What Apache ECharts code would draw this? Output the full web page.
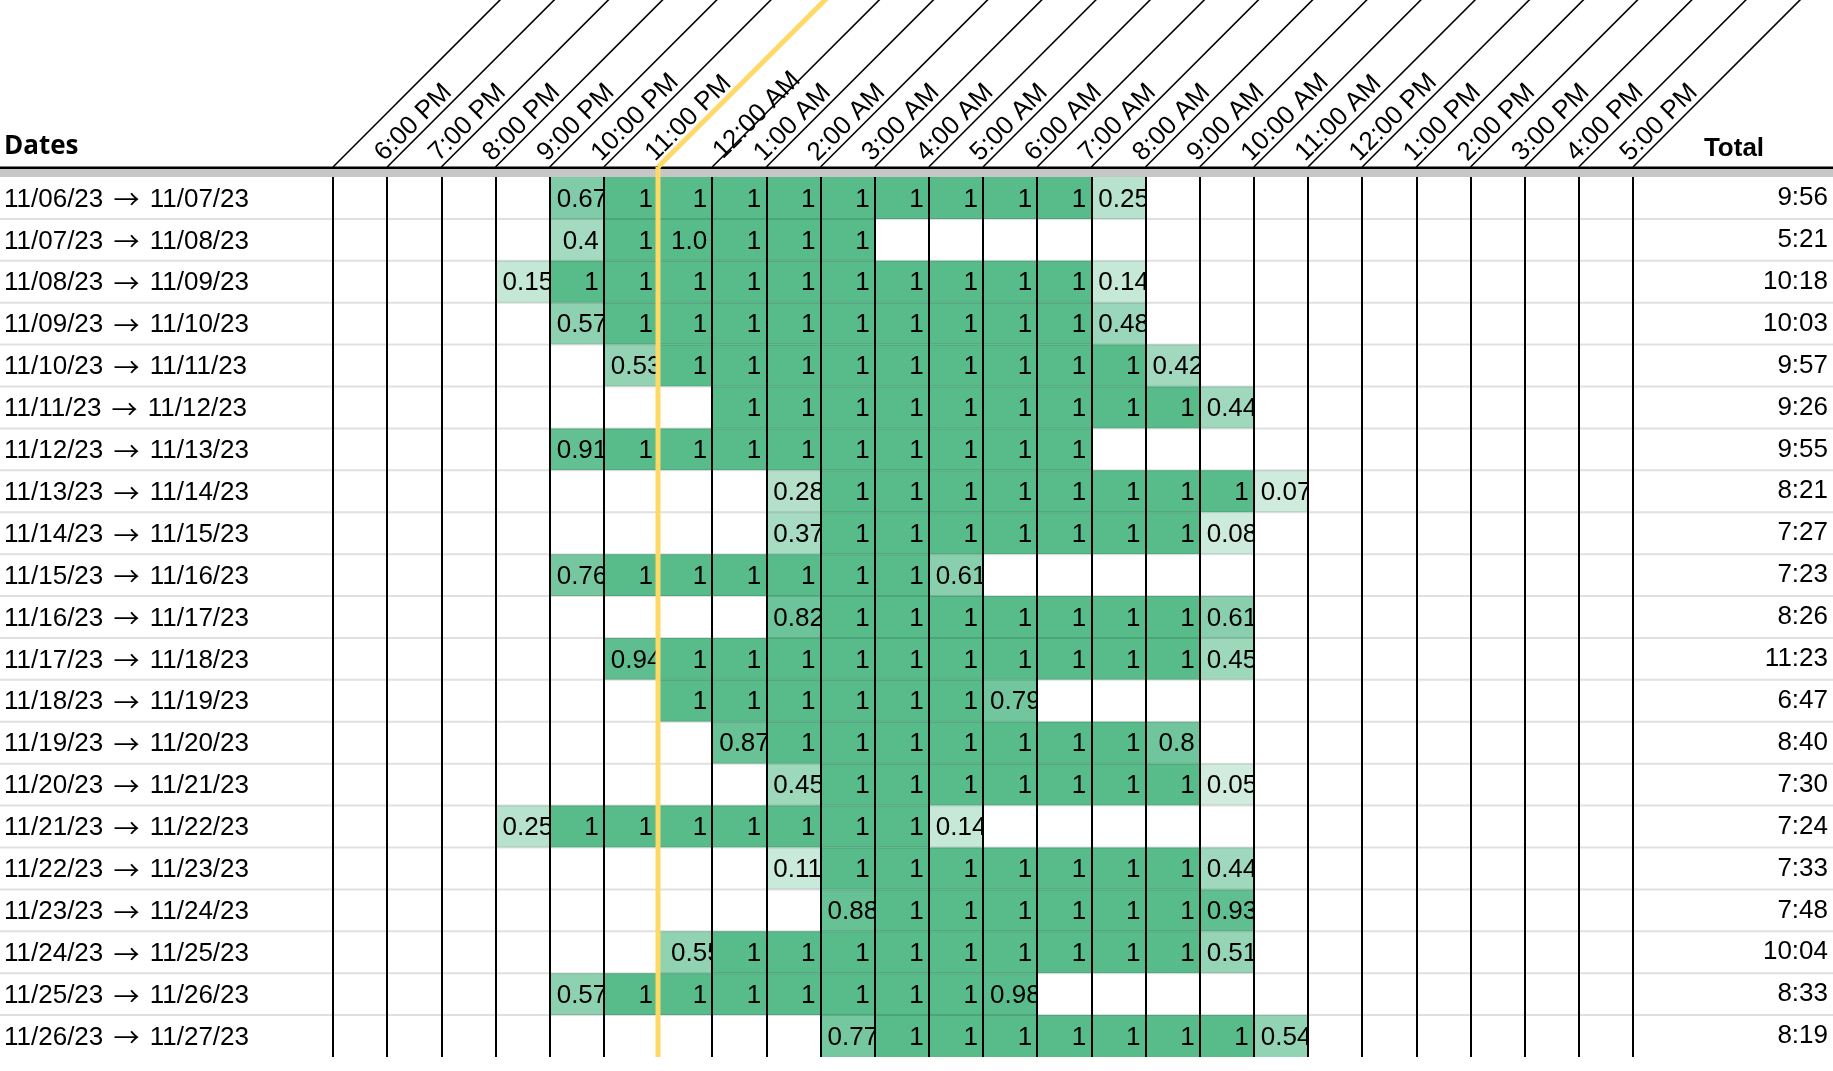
<!DOCTYPE html>
<html>
<head>
<meta charset="utf-8">
<script src="https://cdn.jsdelivr.net/npm/echarts@6/dist/echarts.min.js"></script>
<style>
html, body { margin: 0; padding: 0; background: #ffffff; }
#chart { width: 1833px; height: 1071px; }
</style>
</head>
<body>
<div id="chart"></div>
<script>
// ---------------- data ----------------
const hours = ['6:00 PM','7:00 PM','8:00 PM','9:00 PM','10:00 PM','11:00 PM','12:00 AM','1:00 AM','2:00 AM','3:00 AM','4:00 AM','5:00 AM','6:00 AM','7:00 AM','8:00 AM','9:00 AM','10:00 AM','11:00 AM','12:00 PM','1:00 PM','2:00 PM','3:00 PM','4:00 PM','5:00 PM'];

const dates = [
  '11/06/23 → 11/07/23','11/07/23 → 11/08/23','11/08/23 → 11/09/23','11/09/23 → 11/10/23',
  '11/10/23 → 11/11/23','11/11/23 → 11/12/23','11/12/23 → 11/13/23','11/13/23 → 11/14/23',
  '11/14/23 → 11/15/23','11/15/23 → 11/16/23','11/16/23 → 11/17/23','11/17/23 → 11/18/23',
  '11/18/23 → 11/19/23','11/19/23 → 11/20/23','11/20/23 → 11/21/23','11/21/23 → 11/22/23',
  '11/22/23 → 11/23/23','11/23/23 → 11/24/23','11/24/23 → 11/25/23','11/25/23 → 11/26/23',
  '11/26/23 → 11/27/23'
];

const totals = ['9:56','5:21','10:18','10:03','9:57','9:26','9:55','8:21','7:27','7:23','8:26','11:23','6:47','8:40','7:30','7:24','7:33','7:48','10:04','8:33','8:19'];

// index (into hours) of the first hour slept in each night
const firstHour = [4,4,3,4,5,7,4,8,8,4,8,5,6,7,8,3,8,9,6,4,9];

// fraction of each hour asleep, from firstHour onward, as displayed
const hourFractions = [
  ['0.67','1','1','1','1','1','1','1','1','1','0.25'],
  ['0.4','1','1.0','1','1','1'],
  ['0.15','1','1','1','1','1','1','1','1','1','1','0.14'],
  ['0.57','1','1','1','1','1','1','1','1','1','0.48'],
  ['0.53','1','1','1','1','1','1','1','1','1','0.42'],
  ['1','1','1','1','1','1','1','1','1','0.44'],
  ['0.91','1','1','1','1','1','1','1','1','1'],
  ['0.28','1','1','1','1','1','1','1','1','0.07'],
  ['0.37','1','1','1','1','1','1','1','0.08'],
  ['0.76','1','1','1','1','1','1','0.61'],
  ['0.82','1','1','1','1','1','1','1','0.61'],
  ['0.94','1','1','1','1','1','1','1','1','1','1','0.45'],
  ['1','1','1','1','1','1','0.79'],
  ['0.87','1','1','1','1','1','1','1','0.8'],
  ['0.45','1','1','1','1','1','1','1','0.05'],
  ['0.25','1','1','1','1','1','1','1','0.14'],
  ['0.11','1','1','1','1','1','1','1','0.44'],
  ['0.88','1','1','1','1','1','1','0.93'],
  ['0.55','1','1','1','1','1','1','1','1','1','0.51'],
  ['0.57','1','1','1','1','1','1','1','0.98'],
  ['0.77','1','1','1','1','1','1','1','0.54']
];

// ---------------- build ----------------
const FONT_FAMILY = '"Liberation Sans", Arial, Helvetica, sans-serif';
const ARROW_FAMILY = '"Noto Sans CJK JP", "DejaVu Sans", sans-serif';
const FONT_SIZE = 26;
const CELL_FONT = FONT_SIZE + 'px ' + FONT_FAMILY;
const GREEN = [87, 187, 138];
const MIDNIGHT = '12:00 AM';

const measureCtx = document.createElement('canvas').getContext('2d');
measureCtx.font = CELL_FONT;

const cells = [];
const cellLabels = [];
hourFractions.forEach(function (vals, r) {
  for (let c = 0; c < hours.length; c++) {
    const k = c - firstHour[r];
    const label = (k >= 0 && k < vals.length) ? vals[k] : '';
    cells.push([c, r, label === '' ? 0 : Number(label)]);
    cellLabels.push(label);
  }
});

function cellColor(v) {
  if (!v) return '#ffffff';
  const t = 0.235 + 0.765 * v;
  const ch = GREEN.map(function (g) { return Math.round(255 + (g - 255) * t); });
  return 'rgb(' + ch.join(',') + ')';
}

function renderCell(params, api) {
  const c = api.value(0), r = api.value(1), v = api.value(2);
  const center = api.coord([c, r]);
  const size = api.size([1, 1]);
  const x0 = center[0] - size[0] / 2;
  const y0 = center[1] - size[1] / 2;
  const label = cellLabels[params.dataIndex];
  const children = [{
    type: 'rect',
    shape: { x: x0, y: y0, width: size[0], height: size[1] },
    style: { fill: cellColor(v) },
    z2: 2 * c
  }];
  if (label) {
    const w = measureCtx.measureText(label).width;
    const fits = w + 10 <= size[0];
    const leftPad = hours[c] === MIDNIGHT ? 13 : 7;
    const tx = fits ? x0 + size[0] - 5 : x0 + leftPad;
    children.push({
      type: 'text',
      x: tx,
      y: center[1] + 1.5,
      style: {
        text: label,
        font: CELL_FONT,
        fill: '#000000',
        align: fits ? 'right' : 'left',
        verticalAlign: 'middle'
      },
      z2: 2 * c + 1
    });
  }
  return { type: 'group', children: children };
}

function renderSeparator(params, api) {
  const r = api.value(1);
  if (r === 0) return { type: 'group', children: [] };
  const center = api.coord([0, r]);
  const size = api.size([1, 1]);
  const y = center[1] - size[1] / 2;
  return {
    type: 'line',
    shape: { x1: 0, y1: y, x2: api.getWidth(), y2: y },
    style: { stroke: 'rgba(0,0,0,0.12)', lineWidth: 2 }
  };
}

function renderHeader(params, api) {
  const c = api.value(0);
  const center = api.coord([c, 0]);
  const size = api.size([1, 1]);
  const top = center[1] - size[1] / 2;          // grid top
  const headY = top - 10;                        // header rule
  const bottom = api.coord([c, dates.length - 1])[1] + size[1] / 2;
  const children = [];
  const edges = [center[0] - size[0] / 2];
  if (c === hours.length - 1) edges.push(center[0] + size[0] / 2);
  edges.forEach(function (xb) {
    children.push({
      type: 'line',
      shape: { x1: xb, y1: headY, x2: xb + headY + 2, y2: -2 },
      style: { stroke: '#000000', lineWidth: 1.6 }
    });
  });
  if (hours[c] === MIDNIGHT) {
    const xb = edges[0];
    children.push({
      type: 'line',
      shape: { x1: xb, y1: headY, x2: xb + headY + 4, y2: -4 },
      style: { stroke: '#ffd966', lineWidth: 5 }
    });
    children.push({
      type: 'line',
      shape: { x1: xb, y1: headY, x2: xb, y2: bottom },
      style: { stroke: '#ffd966', lineWidth: 5 }
    });
  }
  return { type: 'group', children: children };
}

const chart = echarts.init(document.getElementById('chart'), null, { renderer: 'canvas' });

const hourRich = {
  n: { fontSize: FONT_SIZE, fontFamily: FONT_FAMILY, color: '#000000', lineHeight: 30, padding: [0, 0, 0, 0] },
  m: { fontSize: FONT_SIZE, fontFamily: FONT_FAMILY, color: '#000000', lineHeight: 30, padding: [16, 0, 0, 11] }
};

chart.setOption({
  animation: false,
  backgroundColor: '#ffffff',
  grid: { left: 333, right: 200, top: 177, bottom: 14, containLabel: false, outerBoundsMode: 'none' },
  xAxis: {
    type: 'category',
    position: 'top',
    data: hours,
    z: 4,
    axisLine: { show: false },
    axisTick: { show: false },
    axisLabel: {
      interval: 0,
      rotate: -45,
      margin: 1,
      padding: [0, 0, 0, 27],
      color: '#000000',
      fontSize: FONT_SIZE,
      fontFamily: FONT_FAMILY,
      formatter: function (v) {
        return (v === MIDNIGHT ? '{m|' : '{n|') + v + '}';
      },
      rich: hourRich
    },
    splitLine: { show: true, interval: 0, lineStyle: { color: '#000000', width: 2 } }
  },
  yAxis: [{
    type: 'category',
    inverse: true,
    data: dates,
    axisLine: { show: false },
    axisTick: { show: false },
    splitLine: { show: false },
    axisLabel: {
      interval: 0,
      margin: 329,
      align: 'left',
      color: '#000000',
      fontSize: FONT_SIZE,
      fontFamily: FONT_FAMILY,
      formatter: function (v) {
        const p = v.split(' → ');
        return '{d|' + p[0] + ' }{arr|→}{d| ' + p[1] + '}';
      },
      rich: {
        d: { fontSize: FONT_SIZE, fontFamily: FONT_FAMILY, color: '#000000', lineHeight: 32, verticalAlign: 'middle', padding: [3, 0, 0, 0] },
        arr: { fontSize: FONT_SIZE, fontFamily: ARROW_FAMILY, color: '#000000', lineHeight: 32, verticalAlign: 'middle', padding: [3, 3, 0, 3] }
      }
    }
  }, {
    type: 'category',
    inverse: true,
    position: 'right',
    data: totals,
    axisLine: { show: false },
    axisTick: { show: false },
    splitLine: { show: false },
    axisLabel: {
      interval: 0,
      margin: 195,
      align: 'right',
      padding: [3, 0, 0, 0],
      color: '#000000',
      fontSize: FONT_SIZE,
      fontFamily: FONT_FAMILY
    }
  }],
  graphic: [
    { type: 'rect', shape: { x: 0, y: 166.5, width: 1833, height: 2.5 }, style: { fill: '#000000' }, z: 1 },
    { type: 'rect', shape: { x: 0, y: 169, width: 1833, height: 8 }, style: { fill: '#c6c6c6' }, z: 1 },
    { type: 'text', x: 4, y: 146.5, z: 1,
      style: { text: 'Dates', font: 'bold 26px "Open Sans", sans-serif', fill: '#000000', align: 'left', verticalAlign: 'middle' } },
    { type: 'text', x: 1734, y: 148.5, z: 1,
      style: { text: 'Total', font: 'bold 26px ' + FONT_FAMILY, fill: '#000000', align: 'center', verticalAlign: 'middle' } }
  ],
  series: [{
    type: 'custom',
    name: 'cells',
    coordinateSystem: 'cartesian2d',
    xAxisIndex: 0, yAxisIndex: 0,
    encode: { x: 0, y: 1 },
    z: 2,
    silent: true,
    clip: false,
    renderItem: renderCell,
    data: cells
  }, {
    type: 'custom',
    name: 'rowLines',
    coordinateSystem: 'cartesian2d',
    encode: { x: 0, y: 1 },
    z: 3,
    silent: true,
    clip: false,
    renderItem: renderSeparator,
    data: dates.map(function (d, i) { return [0, i]; })
  }, {
    type: 'custom',
    name: 'header',
    coordinateSystem: 'cartesian2d',
    encode: { x: 0, y: 1 },
    z: 5,
    silent: true,
    clip: false,
    renderItem: renderHeader,
    data: hours.map(function (h, i) { return [i, 0]; })
  }]
});
</script>
</body>
</html>
